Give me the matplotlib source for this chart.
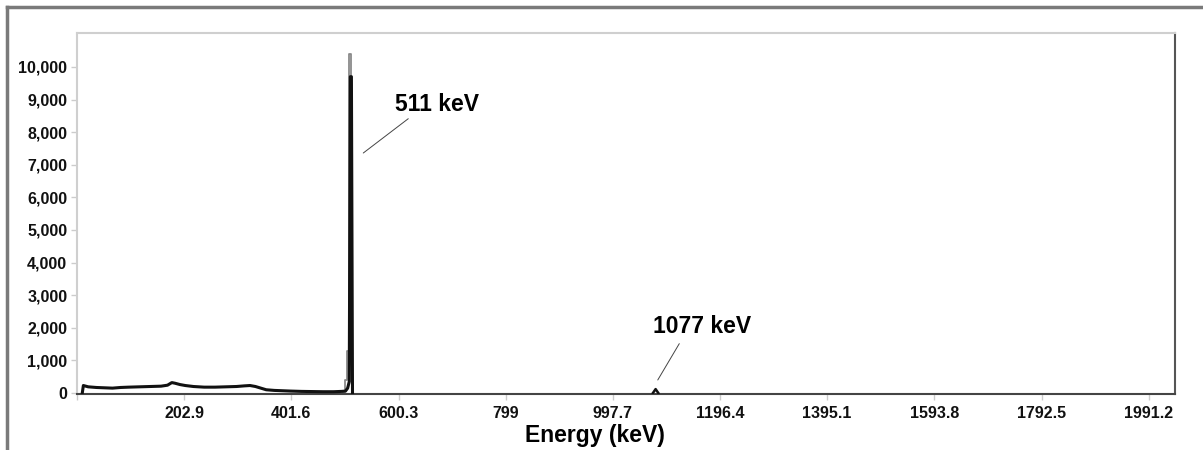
import numpy as np
import matplotlib.pyplot as plt
from matplotlib.lines import Line2D

# spectrum (black trace)
energy_main = [14, 16, 25, 40, 55, 70, 85, 100, 120, 140, 160, 172, 180, 186, 195,
               205, 220, 240, 260, 280, 300, 315, 325, 335, 345, 355, 370, 385,
               400, 420, 440, 460, 480, 495, 502, 506, 509, 511, 513, 515]
counts_main = [0, 230, 190, 170, 160, 150, 170, 180, 190, 200, 210, 240, 320, 300, 260,
               230, 200, 180, 180, 190, 200, 220, 230, 200, 150, 100, 80, 70,
               60, 50, 45, 40, 40, 50, 60, 150, 350, 9700, 9700, 0]

# small peak near 1077 keV
energy_small = [1072, 1077, 1082]
counts_small = [0, 120, 0]

# second (grey) trace around the annihilation peak
energy_grey = [498, 503, 507, 511, 513, 516]
counts_grey = [40, 400, 1300, 10400, 1300, 0]

x_ticks = [4.2, 202.9, 401.6, 600.3, 799, 997.7, 1196.4, 1395.1, 1593.8, 1792.5, 1991.2]
x_tick_labels = ["", "202.9", "401.6", "600.3", "799", "997.7", "1196.4",
                 "1395.1", "1593.8", "1792.5", "1991.2"]
y_ticks = [0, 1000, 2000, 3000, 4000, 5000, 6000, 7000, 8000, 9000, 10000]

plt.rcParams['font.family'] = ['Liberation Sans', 'DejaVu Sans']
plt.rcParams['font.weight'] = 'bold'

fig = plt.figure(figsize=(12.03, 4.5), dpi=100, facecolor='white')
ax = fig.add_axes([77 / 1203, 1 - 394 / 450, (1175 - 77) / 1203, (394 - 33) / 450])

ax.step(energy_grey, counts_grey, where='mid', color='#8a8a8a', lw=1.3, zorder=2)
ax.plot(energy_main, counts_main, color='#111111', lw=2.2, zorder=3)
ax.plot(energy_small, counts_small, color='#111111', lw=1.8, zorder=3)

ax.set_xlim(4.2, 2040)
ax.set_ylim(-30, 11040)
ax.set_xticks(x_ticks)
ax.set_xticklabels(x_tick_labels)
ax.set_yticks(y_ticks)
ax.set_yticklabels([f"{v:,}" for v in y_ticks])
ax.tick_params(axis='both', labelsize=11.5, color='#cccccc', length=4, width=1)
ax.tick_params(axis='x', pad=5)
ax.tick_params(axis='y', pad=3)
for lbl in ax.get_xticklabels() + ax.get_yticklabels():
    lbl.set_fontweight('bold')
    lbl.set_color('#111111')

ax.set_xlabel("Energy (keV)", fontsize=16.5, fontweight='bold')
ax.xaxis.set_label_coords((595 - 77) / (1175 - 77), -0.083)

ax.spines['top'].set_color('#cfcfcf')
ax.spines['left'].set_color('#cfcfcf')
ax.spines['right'].set_color('#555555')
ax.spines['bottom'].set_color('#444444')
for s in ax.spines.values():
    s.set_linewidth(1.5)

# peak annotations
ax.annotate("511 keV", xy=(535, 7360), xytext=(594, 8850),
            fontsize=16.5, fontweight='bold', va='center', ha='left',
            arrowprops=dict(arrowstyle='-', color='#444444', lw=0.7,
                            shrinkA=0, shrinkB=0, relpos=(0.2, 0.0)))
ax.annotate("1077 keV", xy=(1081, 400), xytext=(1072, 2025),
            fontsize=16.5, fontweight='bold', va='center', ha='left',
            arrowprops=dict(arrowstyle='-', color='#444444', lw=0.7,
                            shrinkA=2, shrinkB=0, relpos=(0.3, 0.0)))

# outer grey frame (top and left edges)
fig.add_artist(Line2D([7 / 1203, 7 / 1203], [0, 1 - 7 / 450], transform=fig.transFigure,
                      color='#7a7a7a', lw=2.5))
fig.add_artist(Line2D([7 / 1203, 1], [1 - 7 / 450, 1 - 7 / 450], transform=fig.transFigure,
                      color='#7a7a7a', lw=2.5))

fig.savefig("out.png", dpi=100, facecolor='white')
